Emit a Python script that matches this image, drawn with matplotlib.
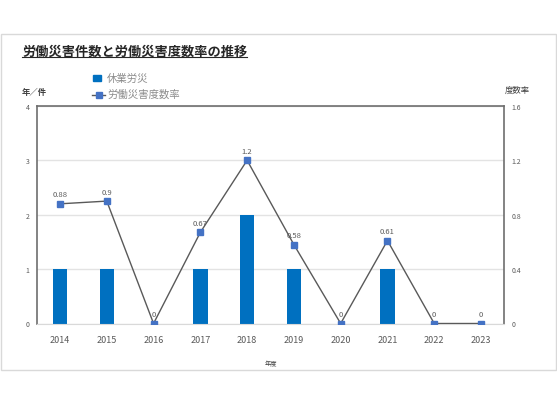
import matplotlib.pyplot as plt
from matplotlib.lines import Line2D
from matplotlib.patches import Rectangle

plt.rcParams['font.family'] = ['Noto Sans CJK JP', 'DejaVu Sans']

years = ['2014', '2015', '2016', '2017', '2018', '2019', '2020', '2021', '2022', '2023']
lost_time_cases = [1, 1, 0, 1, 2, 1, 0, 1, 0, 0]
frequency_rate = [0.88, 0.9, 0, 0.67, 1.2, 0.58, 0, 0.61, 0, 0]
left_ticks = [0, 1, 2, 3, 4]
right_ticks = [0, 0.4, 0.8, 1.2, 1.6]
right_tick_labels = ['0', '0.4', '0.8', '1.2', '1.6']

W, H = 557, 402
fig = plt.figure(figsize=(W / 100, H / 100), dpi=100)

def px(x0, y0, x1, y1):
    # pixel box (top-left origin) -> figure fraction rect
    return [x0 / W, 1 - y1 / H, (x1 - x0) / W, (y1 - y0) / H]

# outer chart border
fig.add_artist(Rectangle((1 / W, 1 - 371 / H), 555 / W, 336 / H,
                         transform=fig.transFigure, fill=False,
                         edgecolor='#D9D9D9', linewidth=1))

ax = fig.add_axes(px(36.6, 106.9, 504.4, 324.5))
x = list(range(len(years)))
ax.bar(x, lost_time_cases, width=0.31, color='#0070C0', zorder=2)
ax.set_xlim(-0.5, len(years) - 0.5)
ax.set_ylim(0, 4)
ax.set_yticks(left_ticks)
ax.set_yticklabels([str(t) for t in left_ticks])
ax.set_xticks(x)
ax.set_xticklabels(years)
ax.grid(axis='y', color='#E3E3E3', linewidth=1, zorder=0)
ax.tick_params(axis='y', length=0, pad=5, labelsize=5, labelcolor='#595959')
ax.tick_params(axis='x', length=0, pad=8, labelsize=6.5, labelcolor='#595959')
ax.set_xlabel('年度', fontsize=4.5, color='#404040', labelpad=11)
for side in ['left', 'top', 'right']:
    ax.spines[side].set_color('#6E6E6E')
    ax.spines[side].set_linewidth(1.2)
ax.spines['bottom'].set_color('#D9D9D9')

ax2 = ax.twinx()
ax2.plot(x, frequency_rate, color='#595959', linewidth=1,
         marker='s', markersize=3.8, markerfacecolor='#4472C4',
         markeredgecolor='#4472C4', zorder=3)
ax2.set_ylim(0, 1.6)
ax2.set_yticks(right_ticks)
ax2.set_yticklabels(right_tick_labels)
ax2.tick_params(axis='y', length=0, pad=5, labelsize=5, labelcolor='#595959')
for side in ['left', 'top', 'right', 'bottom']:
    ax2.spines[side].set_visible(False)

for xi, v in zip(x, frequency_rate):
    ax2.annotate(f'{v:g}', (xi, v), xytext=(0, 4), textcoords='offset points',
                 ha='center', va='bottom', fontsize=5.5, color='#595959')

# axis captions
fig.text(22 / W, 1 - 93 / H, '年／件', fontsize=6, fontweight='bold',
         color='#404040', ha='left', va='center')
fig.text(505 / W, 1 - 90 / H, '度数率', fontsize=6, color='#404040',
         ha='left', va='center')

# legend (hand placed)
fig.add_artist(Rectangle((93 / W, 1 - 82 / H), 8 / W, 6 / H,
                         transform=fig.transFigure, color='#0070C0'))
fig.text(107 / W, 1 - 79 / H, '休業労災', fontsize=7.5, color='#8C8C8C',
         ha='left', va='center')
fig.add_artist(Line2D([92 / W, 105 / W], [1 - 96 / H, 1 - 96 / H],
                      transform=fig.transFigure, color='#595959', linewidth=1))
fig.add_artist(Line2D([98.5 / W], [1 - 96 / H], transform=fig.transFigure,
                      marker='s', markersize=3.8, linestyle='none',
                      markerfacecolor='#4472C4', markeredgecolor='#4472C4'))
fig.text(107 / W, 1 - 95 / H, '労働災害度数率', fontsize=7.5, color='#8C8C8C',
         ha='left', va='center')

# title with underline
title = fig.text(22 / W, 1 - 52 / H, '労働災害件数と労働災害度数率の推移',
                 fontsize=9.5, fontweight='bold', color='#262626',
                 ha='left', va='center')
fig.canvas.draw()
bb = title.get_window_extent().transformed(fig.transFigure.inverted())
fig.add_artist(Line2D([bb.x0, bb.x1], [1 - 58 / H, 1 - 58 / H],
                      transform=fig.transFigure, color='#262626', linewidth=0.8))

fig.savefig('out.png', dpi=100)
